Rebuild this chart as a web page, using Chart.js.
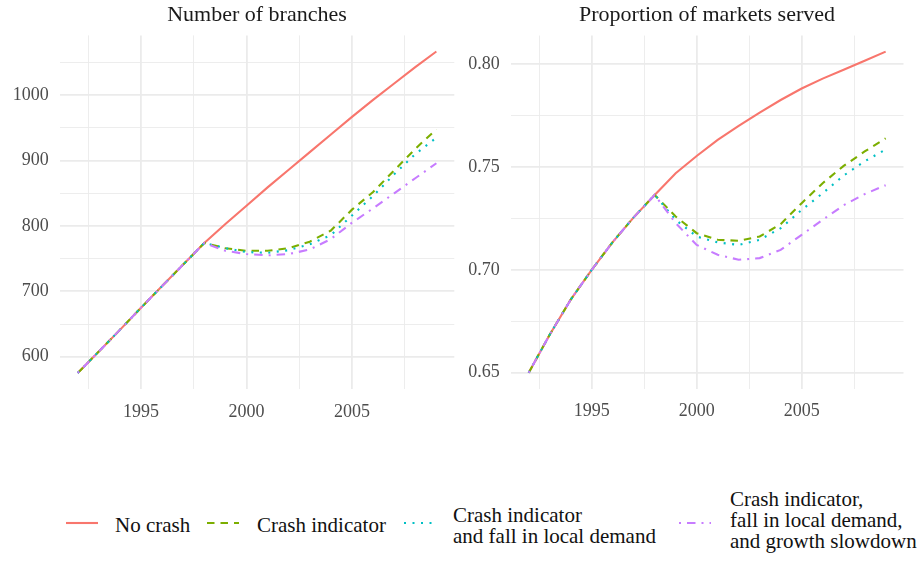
<!DOCTYPE html>
<html>
<head>
<meta charset="utf-8">
<script src="https://cdn.jsdelivr.net/npm/chart.js@4.4.1/dist/chart.umd.min.js"></script>
<style>
  body { margin: 0; background: #fff; font-family: "Liberation Serif", serif; }
  #wrap { position: relative; width: 917px; height: 561px; overflow: hidden; }
  canvas { position: absolute; top: 0; }
  .ptitle { position: absolute; top: 3px; font-size: 22px; line-height: 22px; color: #1a1a1a; white-space: nowrap; transform: translateX(-50%); }
  .lkey { position: absolute; }
  .ltext { position: absolute; font-size: 21px; line-height: 21px; color: #111; white-space: nowrap; }
</style>
</head>
<body>
<div id="wrap">
  <canvas id="chart-branches" width="458" height="440" style="left:0"></canvas>
  <canvas id="chart-markets" width="459" height="440" style="left:458px"></canvas>
  <div class="ptitle" style="left:257px">Number of branches</div>
  <div class="ptitle" style="left:707px">Proportion of markets served</div>
  <div id="legend"></div>
</div>
<script>
// 연도
const years = [1992, 1993, 1994, 1995, 1996, 1997, 1998, 1999, 2000, 2001, 2002, 2003, 2004, 2005, 2006, 2007, 2008, 2009];

// 지점 수 (왼쪽 패널)
const branchesNoCrash  = [575, 608, 641, 675, 708, 741, 774, 803, 831, 859, 886, 913, 940, 967, 993, 1018, 1043, 1067];
const branchesCrash    = [575, 608, 641, 675, 708, 741, 774, 766, 762, 762, 766, 776, 793, 825, 852, 885, 918, 948];
const branchesDemand   = [575, 608, 641, 675, 708, 741, 774, 766, 760, 759, 763, 772, 786, 816, 846, 879, 910, 935];
const branchesSlowdown = [575, 608, 641, 675, 708, 741, 774, 762, 757, 755, 757, 764, 780, 805, 827, 850, 873, 896];

// 시장 점유 비율 (오른쪽 패널)
const marketsNoCrash  = [0.650, 0.6685, 0.6855, 0.700, 0.7135, 0.7255, 0.7364, 0.7469, 0.7553, 0.7631, 0.7699, 0.7764, 0.7825, 0.7881, 0.7929, 0.7972, 0.8016, 0.8060];
const marketsCrash    = [0.650, 0.6685, 0.6855, 0.700, 0.7135, 0.7255, 0.7364, 0.7259, 0.7178, 0.7146, 0.7141, 0.7162, 0.7222, 0.7324, 0.7421, 0.7505, 0.7575, 0.7639];
const marketsDemand   = [0.650, 0.6685, 0.6855, 0.700, 0.7135, 0.7255, 0.7364, 0.7243, 0.7162, 0.7133, 0.7121, 0.7146, 0.7202, 0.7291, 0.7372, 0.7458, 0.7527, 0.7585];
const marketsSlowdown = [0.650, 0.6685, 0.6855, 0.700, 0.7135, 0.7255, 0.7364, 0.7227, 0.7121, 0.7073, 0.7049, 0.7057, 0.7097, 0.7170, 0.7243, 0.7314, 0.7368, 0.7411];

// 시나리오 라벨
const seriesLabels = [
  ['No crash'],
  ['Crash indicator'],
  ['Crash indicator', 'and fall in local demand'],
  ['Crash indicator,', 'fall in local demand,', 'and growth slowdown'],
];

// 눈금
const xMajorTicks = [1995, 2000, 2005];
const xMinorTicks = [1992.5, 1997.5, 2002.5, 2007.5];
const branchesMajorTicks = [600, 700, 800, 900, 1000];
const branchesMinorTicks = [650, 750, 850, 950, 1050];
const marketsMajorTicks = [0.65, 0.70, 0.75, 0.80];
const marketsMinorTicks = [0.675, 0.725, 0.775];

const COLORS = ['#F8766D', '#7CAE00', '#00BFC4', '#C77CFF'];
const DASHES = [[], [7.5, 6], [2, 6.5], [2, 6, 8.5, 6]];
const FONT = '"Liberation Serif", serif';
const GRID = '#ebebeb';

function expand(arrs) {
  const all = arrs.flat();
  const lo = Math.min(...all), hi = Math.max(...all);
  const pad = (hi - lo) * 0.05;
  return [lo - pad, hi + pad];
}

function makeChart(id, seriesList, majors, minors, fmt, box) {
  const [ymin, ymax] = expand(seriesList);
  const xpad = (years[years.length - 1] - years[0]) * 0.05;
  const datasets = seriesList.map((vals, i) => ({
    label: seriesLabels[i].join(' '),
    data: years.map((y, k) => ({ x: y, y: vals[k] })),
    borderColor: COLORS[i],
    borderWidth: 2.1,
    borderDash: DASHES[i],
    borderCapStyle: 'butt',
    pointRadius: 0,
    tension: 0,
    fill: false,
    order: 3 - i,
  }));
  const isMajor = (list, v) => list.some(m => Math.abs(m - v) < 1e-9);
  return new Chart(document.getElementById(id), {
    type: 'line',
    data: { datasets },
    options: {
      responsive: false,
      animation: false,
      layout: { padding: { top: box.top, right: box.right, left: 0, bottom: 0 } },
      plugins: { legend: { display: false }, tooltip: { enabled: false } },
      scales: {
        x: {
          type: 'linear',
          min: years[0] - xpad,
          max: years[years.length - 1] + xpad,
          afterBuildTicks: s => { s.ticks = [...xMinorTicks, ...xMajorTicks].sort((a, b) => a - b).map(v => ({ value: v })); },
          afterFit: s => { s.height = box.xh; },
          ticks: {
            autoSkip: false, maxRotation: 0, padding: 12,
            color: '#4d4d4d', font: { family: FONT, size: 18 },
            callback: v => isMajor(xMajorTicks, v) ? String(v) : '',
          },
          grid: { color: GRID, drawTicks: false, lineWidth: c => isMajor(xMajorTicks, c.tick.value) ? 1.8 : 0.9 },
          border: { display: false },
        },
        y: {
          min: ymin,
          max: ymax,
          afterBuildTicks: s => { s.ticks = [...minors, ...majors].sort((a, b) => a - b).map(v => ({ value: v })); },
          afterFit: s => { s.width = box.yw; },
          ticks: {
            autoSkip: false, padding: 11,
            color: '#4d4d4d', font: { family: FONT, size: 18 },
            callback: v => isMajor(majors, v) ? fmt(v) : '',
          },
          grid: { color: GRID, drawTicks: false, lineWidth: c => isMajor(majors, c.tick.value) ? 1.8 : 0.9 },
          border: { display: false },
        },
      },
    },
  });
}

makeChart('chart-branches',
  [branchesNoCrash, branchesCrash, branchesDemand, branchesSlowdown],
  branchesMajorTicks, branchesMinorTicks, v => String(v),
  { top: 35.4, right: 3.7, yw: 59.8, xh: 50.9 });

makeChart('chart-markets',
  [marketsNoCrash, marketsCrash, marketsDemand, marketsSlowdown],
  marketsMajorTicks, marketsMinorTicks, v => v.toFixed(2),
  { top: 35.6, right: 13.5, yw: 52.85, xh: 51.2 });

// 범례 (HTML)
const legendPos = [
  { kx: 66, tx: 115, ty: 515 },
  { kx: 207, tx: 257, ty: 515 },
  { kx: 404, tx: 453, ty: 504.5 },
  { kx: 679, tx: 730, ty: 488.5 },
];
const legend = document.getElementById('legend');
seriesLabels.forEach((lines, i) => {
  const p = legendPos[i];
  const key = document.createElement('canvas');
  key.className = 'lkey';
  key.width = 34; key.height = 10;
  key.style.left = p.kx + 'px';
  key.style.top = '518px';
  const ctx = key.getContext('2d');
  ctx.strokeStyle = COLORS[i];
  ctx.lineWidth = 2.1;
  ctx.setLineDash(DASHES[i]);
  ctx.beginPath(); ctx.moveTo(0, 5); ctx.lineTo(32, 5); ctx.stroke();
  legend.appendChild(key);
  const t = document.createElement('div');
  t.className = 'ltext';
  t.style.left = p.tx + 'px';
  t.style.top = p.ty + 'px';
  t.innerHTML = lines.join('<br>');
  legend.appendChild(t);
});
</script>
</body>
</html>
